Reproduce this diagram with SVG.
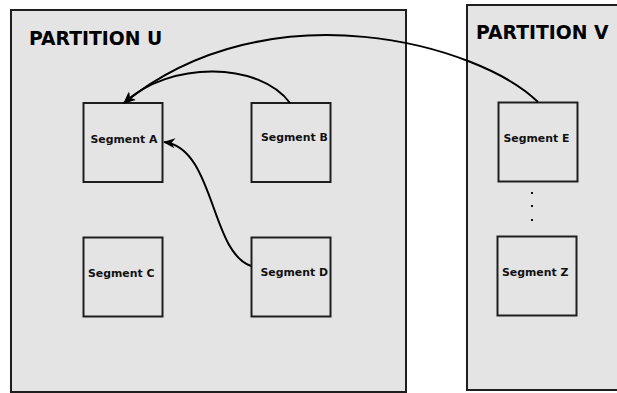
<svg xmlns="http://www.w3.org/2000/svg" width="617" height="393" viewBox="0 0 617 393">
  <defs>
    <style>
      .partition { fill: #e4e4e4; stroke: #1e1e1e; stroke-width: 2; }
      .segment { fill: #e4e4e4; stroke: #1e1e1e; stroke-width: 2; }
      .ptitle { font-family: "DejaVu Sans", "Liberation Sans", sans-serif; font-weight: bold; font-size: 18.8px; fill: #000; }
      .slabel { font-family: "DejaVu Sans", "Liberation Sans", sans-serif; font-weight: bold; font-size: 10.9px; fill: #111; }
      .link { fill: none; stroke: #000; stroke-width: 2; marker-end: url(#arrow); }
      .dot { fill: #111; }
    </style>
    <marker id="arrow" viewBox="-12 -6 14 12" markerWidth="14" markerHeight="12" refX="0" refY="0" orient="auto" markerUnits="userSpaceOnUse">
      <path d="M1,0 L-11,-5 L-7.5,0 L-11,5 z" fill="#000"/>
    </marker>
  </defs>

  <!-- Partition U -->
  <g id="partition-u">
    <rect class="partition" x="11" y="10" width="395" height="382"/>
    <text class="ptitle" x="29" y="45">PARTITION U</text>
  </g>

  <!-- Partition V (runs off the right edge) -->
  <g id="partition-v">
    <rect class="partition" x="467" y="5" width="160" height="385"/>
    <text class="ptitle" x="476" y="38.5">PARTITION V</text>
  </g>

  <g id="segment-a">
    <rect class="segment" x="83.5" y="103" width="79" height="79"/>
    <text class="slabel" x="90.5" y="142.5">Segment A</text>
  </g>
  <g id="segment-b">
    <rect class="segment" x="251.5" y="103" width="79" height="79"/>
    <text class="slabel" x="261" y="140.5">Segment B</text>
  </g>
  <g id="segment-c">
    <rect class="segment" x="83.5" y="237.5" width="79" height="79"/>
    <text class="slabel" x="88" y="276.5">Segment C</text>
  </g>
  <g id="segment-d">
    <rect class="segment" x="251.5" y="237.5" width="79" height="79"/>
    <text class="slabel" x="260.5" y="276">Segment D</text>
  </g>
  <g id="segment-e">
    <rect class="segment" x="498.5" y="102.5" width="79" height="79"/>
    <text class="slabel" x="503.5" y="141.5">Segment E</text>
  </g>
  <g id="segment-z">
    <rect class="segment" x="497.5" y="236.5" width="79" height="79"/>
    <text class="slabel" x="502" y="276">Segment Z</text>
  </g>

  <!-- vertical ellipsis between E and Z -->
  <g id="ellipsis">
    <rect class="dot" x="531" y="192" width="2" height="2"/>
    <rect class="dot" x="531" y="205" width="2" height="2"/>
    <rect class="dot" x="531" y="219" width="2" height="2"/>
  </g>

  <g id="connectors">
    <path class="link" d="M538,102 C480,45 270,-15 124,103"/>
    <path class="link" d="M290,103 C260,62 170,60 124,103"/>
    <path class="link" d="M251,266 C210,252 215,148 164,142"/>
  </g>
</svg>
